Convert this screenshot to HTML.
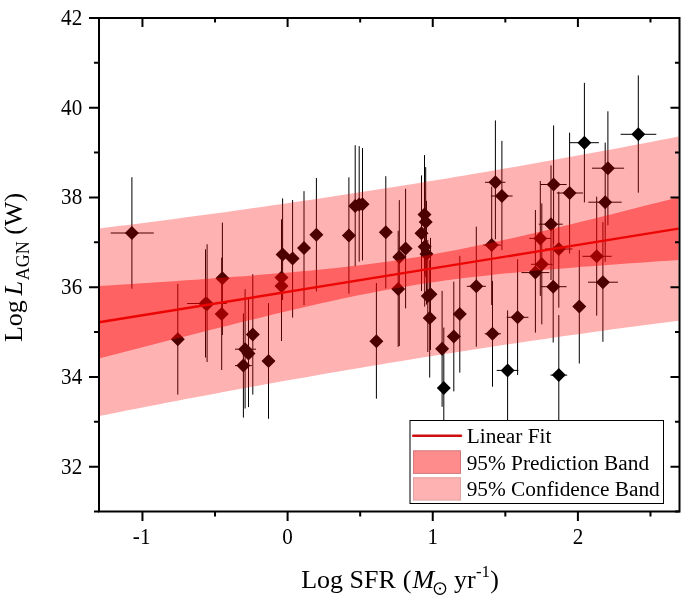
<!DOCTYPE html>
<html><head><meta charset="utf-8"><style>
html,body{margin:0;padding:0;background:#fff;width:685px;height:599px;overflow:hidden}
svg{display:block;will-change:transform}
text{font-family:"Liberation Serif",serif}
</style></head><body>
<svg width="685" height="599" viewBox="0 0 685 599">
<rect width="685" height="599" fill="#fff"/>
<path d="M131.9,177.2V288.7M110.7,233H153.8M177.8,283.9V394.6M205.5,249.3V357.5M187.1,303.5H226.7M207.1,244.3V362M222.4,222.6V335M221.7,257.6V370M252.8,274.2V394.6M245.1,289.2V408.5M235,349.2H256M248.5,298.4V407.1M243.4,313.4V417.6M235,365.6H251.8M268.5,303.1V418.8M282.6,198.4V300M281.5,219.3V330M281.5,240V341M292.6,200.1V317.6M304,191.2V305.1M316.4,178V291.4M348.9,177.3V293.7M355.2,145.2V266.2M359.2,146.1V261.7M362.5,148.1V260.4M376.4,283V398.7M385.8,176.2V288.4M405.6,188.8V308.4M399.3,200.1V346M398.2,230.8V346.8M424.5,155.1V274M425.7,167.1V277M421.5,175.4V291.1M424.7,190V306.6M426.5,200.8V304.6M430.5,237.9V350M427.8,240V352M429.7,260V377.6M442.1,290.9V406.8M443.8,327.6V440M453.8,281.7V391.4M459.8,255.9V372.6M476.3,226.7V346.7M466.8,286.3H485.9M491.7,186.7V305M483.4,245.1H500.9M495.4,120.4V239.3M485,182.3H505.4M501.9,140.9V250.1M490.9,196H512.6M492.5,280.9V386.7M484.7,333.8H500.9M507.6,310.4V440M496.7,370.4H518.4M517.6,259.3V375M506.7,317.3H528.4M535.4,210V332.6M521.4,272.6H549.3M540.3,181V295.9M529.3,238.4H551M541.8,203.4V324.3M531,264.3H552.6M551,165.4V280M538.8,224.2H562.7M553.6,125.4V243.7M540.5,184.5H566.6M553.2,230V342.5M541,286.7H566.6M558.8,191.7V307.6M545,249H572.5M558.8,315.1V440M550.5,375.1H567.2M569.6,132.6V253.5M556.8,193H583M579.3,250.1V363.5M584.4,82.9V202.4M570,142.7H598.9M596.7,196.7V315.6M582.4,256.3H611.6M602.9,222.1V341.8M588,282.2H617.9M605.2,142.6V261.8M588.4,202.2H621.7M607.9,111.3V225.3M592,168.2H624.1M638.3,75.4V192.7M620.6,134.3H656.3" stroke="#000" stroke-width="1.0" fill="none"/>
<path d="M131.9,226l7,7l-7,7l-7,-7zM177.8,332.3l7,7l-7,7l-7,-7zM205.5,296.5l7,7l-7,7l-7,-7zM207.1,297l7,7l-7,7l-7,-7zM222.4,271.2l7,7l-7,7l-7,-7zM221.7,307l7,7l-7,7l-7,-7zM252.8,327.5l7,7l-7,7l-7,-7zM245.1,342.2l7,7l-7,7l-7,-7zM248.5,346.4l7,7l-7,7l-7,-7zM243.4,358.6l7,7l-7,7l-7,-7zM268.5,354l7,7l-7,7l-7,-7zM282.6,247.6l7,7l-7,7l-7,-7zM281.5,270.5l7,7l-7,7l-7,-7zM281.5,279l7,7l-7,7l-7,-7zM292.6,251.5l7,7l-7,7l-7,-7zM304,241.1l7,7l-7,7l-7,-7zM316.4,227.8l7,7l-7,7l-7,-7zM348.9,228.6l7,7l-7,7l-7,-7zM355.2,199l7,7l-7,7l-7,-7zM359.2,197.5l7,7l-7,7l-7,-7zM362.5,197.3l7,7l-7,7l-7,-7zM376.4,334.2l7,7l-7,7l-7,-7zM385.8,225.3l7,7l-7,7l-7,-7zM405.6,241.5l7,7l-7,7l-7,-7zM399.3,250l7,7l-7,7l-7,-7zM398.2,282.1l7,7l-7,7l-7,-7zM424.5,207.4l7,7l-7,7l-7,-7zM425.7,215l7,7l-7,7l-7,-7zM421.5,226.2l7,7l-7,7l-7,-7zM424.7,239.7l7,7l-7,7l-7,-7zM426.5,247l7,7l-7,7l-7,-7zM430.5,287.3l7,7l-7,7l-7,-7zM427.8,289l7,7l-7,7l-7,-7zM429.7,311.1l7,7l-7,7l-7,-7zM442.1,341.7l7,7l-7,7l-7,-7zM443.8,380.9l7,7l-7,7l-7,-7zM453.8,329.5l7,7l-7,7l-7,-7zM459.8,307l7,7l-7,7l-7,-7zM476.3,279.3l7,7l-7,7l-7,-7zM491.7,238.1l7,7l-7,7l-7,-7zM495.4,175.3l7,7l-7,7l-7,-7zM501.9,189l7,7l-7,7l-7,-7zM492.5,326.8l7,7l-7,7l-7,-7zM507.6,363.4l7,7l-7,7l-7,-7zM517.6,310.3l7,7l-7,7l-7,-7zM535.4,265.6l7,7l-7,7l-7,-7zM540.3,231.4l7,7l-7,7l-7,-7zM541.8,257.3l7,7l-7,7l-7,-7zM551,217.2l7,7l-7,7l-7,-7zM553.6,177.5l7,7l-7,7l-7,-7zM553.2,279.7l7,7l-7,7l-7,-7zM558.8,242l7,7l-7,7l-7,-7zM558.8,368.1l7,7l-7,7l-7,-7zM569.6,186l7,7l-7,7l-7,-7zM579.3,299.4l7,7l-7,7l-7,-7zM584.4,135.7l7,7l-7,7l-7,-7zM596.7,249.3l7,7l-7,7l-7,-7zM602.9,275.2l7,7l-7,7l-7,-7zM605.2,195.2l7,7l-7,7l-7,-7zM607.9,161.2l7,7l-7,7l-7,-7zM638.3,127.3l7,7l-7,7l-7,-7z" fill="#000"/>
<path d="M99,322.3L678.5,228.62" stroke="#cd0f0f" stroke-width="2.4" fill="none"/>
<path d="M99.00,228.53 L108.66,227.33 L118.32,226.12 L127.97,224.90 L137.63,223.67 L147.29,222.43 L156.95,221.18 L166.61,219.92 L176.27,218.65 L185.93,217.37 L195.58,216.08 L205.24,214.78 L214.90,213.46 L224.56,212.14 L234.22,210.80 L243.88,209.45 L253.53,208.09 L263.19,206.72 L272.85,205.34 L282.51,203.95 L292.17,202.54 L301.82,201.12 L311.48,199.70 L321.14,198.26 L330.80,196.80 L340.46,195.34 L350.12,193.86 L359.77,192.37 L369.43,190.87 L379.09,189.36 L388.75,187.84 L398.41,186.30 L408.07,184.75 L417.73,183.19 L427.38,181.62 L437.04,180.03 L446.70,178.44 L456.36,176.83 L466.02,175.21 L475.68,173.57 L485.33,171.93 L494.99,170.27 L504.65,168.60 L514.31,166.92 L523.97,165.23 L533.62,163.53 L543.28,161.81 L552.94,160.08 L562.60,158.34 L572.26,156.59 L581.92,154.83 L591.58,153.06 L601.23,151.27 L610.89,149.48 L620.55,147.67 L630.21,145.85 L639.87,144.02 L649.52,142.18 L659.18,140.33 L668.84,138.47 L678.50,136.60 L678.50,320.64 L668.84,321.89 L659.18,323.15 L649.52,324.42 L639.87,325.71 L630.21,327.00 L620.55,328.30 L610.89,329.62 L601.23,330.95 L591.58,332.28 L581.92,333.63 L572.26,334.99 L562.60,336.37 L552.94,337.75 L543.28,339.14 L533.62,340.55 L523.97,341.97 L514.31,343.40 L504.65,344.84 L494.99,346.30 L485.33,347.76 L475.68,349.24 L466.02,350.73 L456.36,352.23 L446.70,353.74 L437.04,355.27 L427.38,356.81 L417.73,358.36 L408.07,359.92 L398.41,361.49 L388.75,363.08 L379.09,364.68 L369.43,366.29 L359.77,367.91 L350.12,369.55 L340.46,371.19 L330.80,372.85 L321.14,374.52 L311.48,376.20 L301.82,377.90 L292.17,379.60 L282.51,381.32 L272.85,383.05 L263.19,384.79 L253.53,386.54 L243.88,388.31 L234.22,390.08 L224.56,391.87 L214.90,393.67 L205.24,395.47 L195.58,397.29 L185.93,399.12 L176.27,400.97 L166.61,402.82 L156.95,404.68 L147.29,406.55 L137.63,408.44 L127.97,410.33 L118.32,412.24 L108.66,414.15 L99.00,416.07Z" fill="#f00" fill-opacity="0.3"/>
<path d="M99.00,286.06 L108.66,285.44 L118.32,284.83 L127.97,284.21 L137.63,283.58 L147.29,282.95 L156.95,282.31 L166.61,281.66 L176.27,281.01 L185.93,280.34 L195.58,279.67 L205.24,278.99 L214.90,278.30 L224.56,277.59 L234.22,276.87 L243.88,276.13 L253.53,275.38 L263.19,274.61 L272.85,273.82 L282.51,273.00 L292.17,272.16 L301.82,271.28 L311.48,270.38 L321.14,269.43 L330.80,268.45 L340.46,267.42 L350.12,266.33 L359.77,265.20 L369.43,264.00 L379.09,262.73 L388.75,261.40 L398.41,260.00 L408.07,258.52 L417.73,256.96 L427.38,255.33 L437.04,253.62 L446.70,251.84 L456.36,249.99 L466.02,248.07 L475.68,246.09 L485.33,244.06 L494.99,241.97 L504.65,239.84 L514.31,237.67 L523.97,235.46 L533.62,233.21 L543.28,230.94 L552.94,228.63 L562.60,226.31 L572.26,223.96 L581.92,221.59 L591.58,219.20 L601.23,216.80 L610.89,214.39 L620.55,211.96 L630.21,209.52 L639.87,207.07 L649.52,204.61 L659.18,202.14 L668.84,199.67 L678.50,197.19 L678.50,260.05 L668.84,260.69 L659.18,261.34 L649.52,261.99 L639.87,262.66 L630.21,263.33 L620.55,264.01 L610.89,264.71 L601.23,265.42 L591.58,266.14 L581.92,266.87 L572.26,267.63 L562.60,268.40 L552.94,269.20 L543.28,270.02 L533.62,270.87 L523.97,271.74 L514.31,272.66 L504.65,273.60 L494.99,274.60 L485.33,275.63 L475.68,276.72 L466.02,277.87 L456.36,279.07 L446.70,280.34 L437.04,281.69 L427.38,283.10 L417.73,284.59 L408.07,286.16 L398.41,287.80 L388.75,289.52 L379.09,291.31 L369.43,293.17 L359.77,295.09 L350.12,297.08 L340.46,299.12 L330.80,301.21 L321.14,303.34 L311.48,305.52 L301.82,307.74 L292.17,309.99 L282.51,312.27 L272.85,314.57 L263.19,316.90 L253.53,319.25 L243.88,321.62 L234.22,324.01 L224.56,326.41 L214.90,328.83 L205.24,331.26 L195.58,333.70 L185.93,336.15 L176.27,338.61 L166.61,341.08 L156.95,343.56 L147.29,346.04 L137.63,348.53 L127.97,351.03 L118.32,353.53 L108.66,356.03 L99.00,358.54Z" fill="#f00" fill-opacity="0.45"/>
<path d="M99,511.5V18H679.5V511.5Z" stroke="#000" stroke-width="2" fill="none"/>
<path d="M94,511.57H99M679.5,511.57H675M89,466.7H99M679.5,466.7H670.5M94,421.83H99M679.5,421.83H675M89,376.96H99M679.5,376.96H670.5M94,332.09H99M679.5,332.09H675M89,287.22H99M679.5,287.22H670.5M94,242.35H99M679.5,242.35H675M89,197.48H99M679.5,197.48H670.5M94,152.61H99M679.5,152.61H675M89,107.74H99M679.5,107.74H670.5M94,62.87H99M679.5,62.87H675M89,18H99M679.5,18H670.5M142.45,511.5V521M142.45,18V27M215.03,511.5V516.5M215.03,18V22.5M287.6,511.5V521M287.6,18V27M360.18,511.5V516.5M360.18,18V22.5M432.75,511.5V521M432.75,18V27M505.33,511.5V516.5M505.33,18V22.5M577.9,511.5V521M577.9,18V27M650.48,511.5V516.5M650.48,18V22.5" stroke="#000" stroke-width="2" fill="none"/>
<g font-family="Liberation Serif" font-size="22.7" fill="#000"><text transform="translate(82.2,473.5) scale(0.93,1)" text-anchor="end">32</text><text transform="translate(82.2,383.76) scale(0.93,1)" text-anchor="end">34</text><text transform="translate(82.2,294.02) scale(0.93,1)" text-anchor="end">36</text><text transform="translate(82.2,204.28) scale(0.93,1)" text-anchor="end">38</text><text transform="translate(82.2,114.54) scale(0.93,1)" text-anchor="end">40</text><text transform="translate(82.2,24.8) scale(0.93,1)" text-anchor="end">42</text><text transform="translate(141.65,544.4) scale(0.93,1)" text-anchor="middle">-1</text><text transform="translate(287.6,544.4) scale(0.93,1)" text-anchor="middle">0</text><text transform="translate(432.75,544.4) scale(0.93,1)" text-anchor="middle">1</text><text transform="translate(577.9,544.4) scale(0.93,1)" text-anchor="middle">2</text></g>
<g font-family="Liberation Serif" font-size="26" fill="#000">
<text x="301.15" y="588">Log SFR</text>
<text x="402.8" y="588">(</text>
<text x="412.6" y="588" font-style="italic">M</text>
<text x="454.1" y="588">yr</text>
<text x="475.9" y="576.9" font-size="17">-1</text>
<text x="490.2" y="588">)</text>
</g>
<circle cx="440" cy="588.6" r="5.7" stroke="#000" stroke-width="1.3" fill="none"/>
<circle cx="440" cy="588.6" r="1.1" fill="#000"/>
<g font-family="Liberation Serif" font-size="26" fill="#000" transform="translate(22.2,341.8) rotate(-90)">
<text x="-0.3" y="0">Log</text>
<text x="46.3" y="0" font-style="italic">L</text>
<text x="61.6" y="7" font-size="18">AGN</text>
<text x="107" y="0">(W)</text>
</g>
<g>
<rect x="410" y="420.5" width="253.5" height="83" fill="#fff" stroke="#000" stroke-width="1"/>
<path d="M413.2,435.7H461" stroke="#cd0f0f" stroke-width="2.5" stroke-linecap="round"/>
<rect x="413.5" y="450.8" width="47" height="22.6" fill="#ff8c8c" stroke="#d27878" stroke-width="1"/>
<rect x="413.5" y="477.7" width="47" height="22.4" fill="#ffb2b2" stroke="#e0a2a2" stroke-width="1"/>
<g font-family="Liberation Serif" font-size="21.33" fill="#000">
<text x="466.7" y="442.5">Linear Fit</text>
<text x="466.7" y="469.5">95% Prediction Band</text>
<text x="466.7" y="495.8">95% Confidence Band</text>
</g>
</g>
</svg>
</body></html>
